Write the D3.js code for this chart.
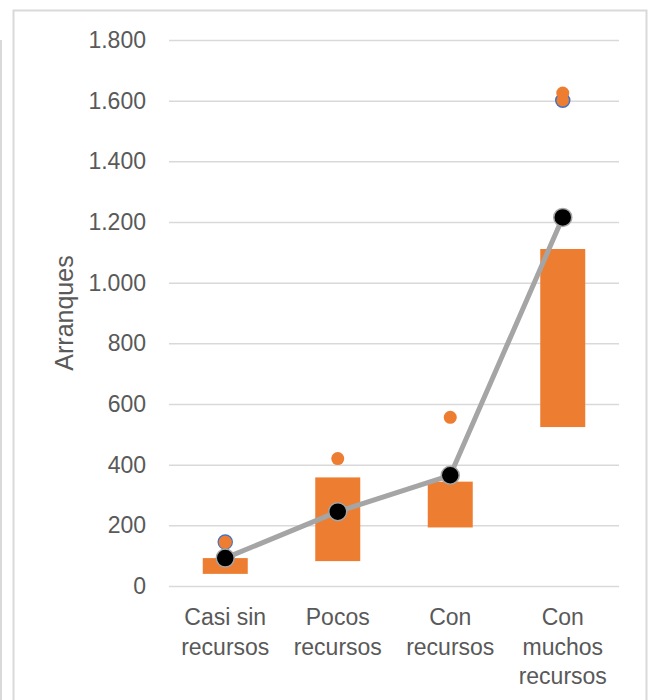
<!DOCTYPE html>
<html>
<head>
<meta charset="utf-8">
<script src="https://cdn.jsdelivr.net/npm/d3@7"></script>
<style>
  body { margin: 0; background: #fff; }
  svg { display: block; font-family: "Liberation Sans", Arial, sans-serif; }
</style>
</head>
<body>
<svg id="chart" width="649" height="700"></svg>
<script>
// categories and their wrapped tick labels
const categories = ["Casi sin recursos", "Pocos recursos", "Con recursos", "Con muchos recursos"];
const tickLines = [["Casi sin", "recursos"], ["Pocos", "recursos"], ["Con", "recursos"], ["Con", "muchos", "recursos"]];
const yTicks = [0, 200, 400, 600, 800, 1000, 1200, 1400, 1600, 1800];

// floating bar (low..high), mean line, outlier dots and blue markers
const barLow = [40, 82, 193, 524];
const barHigh = [92, 358, 344, 1111];
const meanVals = [92, 245, 365, 1215];
const orangeDots = [144, 420, 556, 1625];
const blueMarks = [145, null, null, 1601];

const width = 649, height = 700;
const margin = { top: 40, right: 30, bottom: 114, left: 169 };

const svg = d3.select("#chart");

// outer frame
svg.append("rect")
  .attr("x", 13.5).attr("y", 10.5)
  .attr("width", 633).attr("height", 700)
  .attr("fill", "none").attr("stroke", "#d9d9d9").attr("stroke-width", 2);
svg.append("line")
  .attr("x1", 1).attr("x2", 1).attr("y1", 40).attr("y2", 700)
  .attr("stroke", "#d9d9d9").attr("stroke-width", 2);

var x = d3.scaleBand()
  .domain(categories)
  .range([margin.left, 619])
  .padding(0);

var y = d3.scaleLinear()
  .domain([0, 1800])
  .range([height - margin.bottom, margin.top]);

const loc = d3.formatLocale({ decimal: ",", thousands: ".", grouping: [3], currency: ["", "€"] });
const fmt = loc.format(",");

// y axis with gridlines
svg.append("g")
  .attr("transform", `translate(${margin.left},0)`)
  .call(d3.axisLeft(y).tickValues(yTicks).tickFormat(fmt).tickSize(-(619 - margin.left)).tickPadding(23))
  .call(g => g.select(".domain").remove())
  .call(g => g.selectAll(".tick line").attr("stroke", "#d9d9d9").attr("stroke-width", 1.5))
  .call(g => g.selectAll(".tick text")
    .attr("fill", "#595959")
    .attr("font-size", 23)
    .attr("font-family", "Liberation Sans, Arial, sans-serif"));

// x axis labels
const xAxis = svg.append("g")
  .attr("transform", `translate(0,${height - margin.bottom})`)
  .call(d3.axisBottom(x).tickSize(0).tickFormat(""))
  .call(g => g.select(".domain").remove());

xAxis.selectAll(".tick").each(function (d, i) {
  const t = d3.select(this).append("text")
    .attr("fill", "#595959")
    .attr("font-size", 23)
    .attr("font-family", "Liberation Sans, Arial, sans-serif")
    .attr("text-anchor", "middle")
    .attr("y", 39);
  tickLines[i].forEach((line, j) => {
    t.append("tspan").attr("x", 0).attr("dy", j === 0 ? 0 : 29.5).text(line);
  });
});

// y axis title
svg.append("text")
  .attr("transform", "translate(73,313) rotate(-90)")
  .attr("text-anchor", "middle")
  .attr("fill", "#595959")
  .attr("font-size", 25)
  .text("Arranques");

const cx = (i) => x(categories[i]) + x.bandwidth() / 2;
const barW = x.bandwidth() * 0.4;

// floating bars
svg.append("g").selectAll("rect")
  .data(categories)
  .join("rect")
  .attr("x", (d, i) => cx(i) - barW / 2)
  .attr("y", (d, i) => y(barHigh[i]))
  .attr("width", barW)
  .attr("height", (d, i) => y(barLow[i]) - y(barHigh[i]))
  .attr("fill", "#ed7d31");

// blue markers
svg.append("g").selectAll("circle")
  .data(blueMarks.map((v, i) => ({ v, i })).filter(d => d.v != null))
  .join("circle")
  .attr("cx", d => cx(d.i))
  .attr("cy", d => y(d.v))
  .attr("r", 7)
  .attr("fill", "#ed7d31")
  .attr("stroke", "#4472c4")
  .attr("stroke-width", 1.5);

// orange dots
svg.append("g").selectAll("circle")
  .data(orangeDots)
  .join("circle")
  .attr("cx", (d, i) => cx(i))
  .attr("cy", d => y(d))
  .attr("r", 6.5)
  .attr("fill", "#ed7d31");

// mean line
var meanLine = d3.line()
  .x((d, i) => cx(i))
  .y(d => y(d));

svg.append("path")
  .datum(meanVals)
  .attr("fill", "none")
  .attr("stroke", "#a5a5a5")
  .attr("stroke-width", 5)
  .attr("stroke-linejoin", "round")
  .attr("d", meanLine);

svg.append("g").selectAll("circle")
  .data(meanVals)
  .join("circle")
  .attr("cx", (d, i) => cx(i))
  .attr("cy", d => y(d))
  .attr("r", 9)
  .attr("fill", "#000")
  .attr("stroke", "#a5a5a5")
  .attr("stroke-width", 1.5);
</script>
</body>
</html>
